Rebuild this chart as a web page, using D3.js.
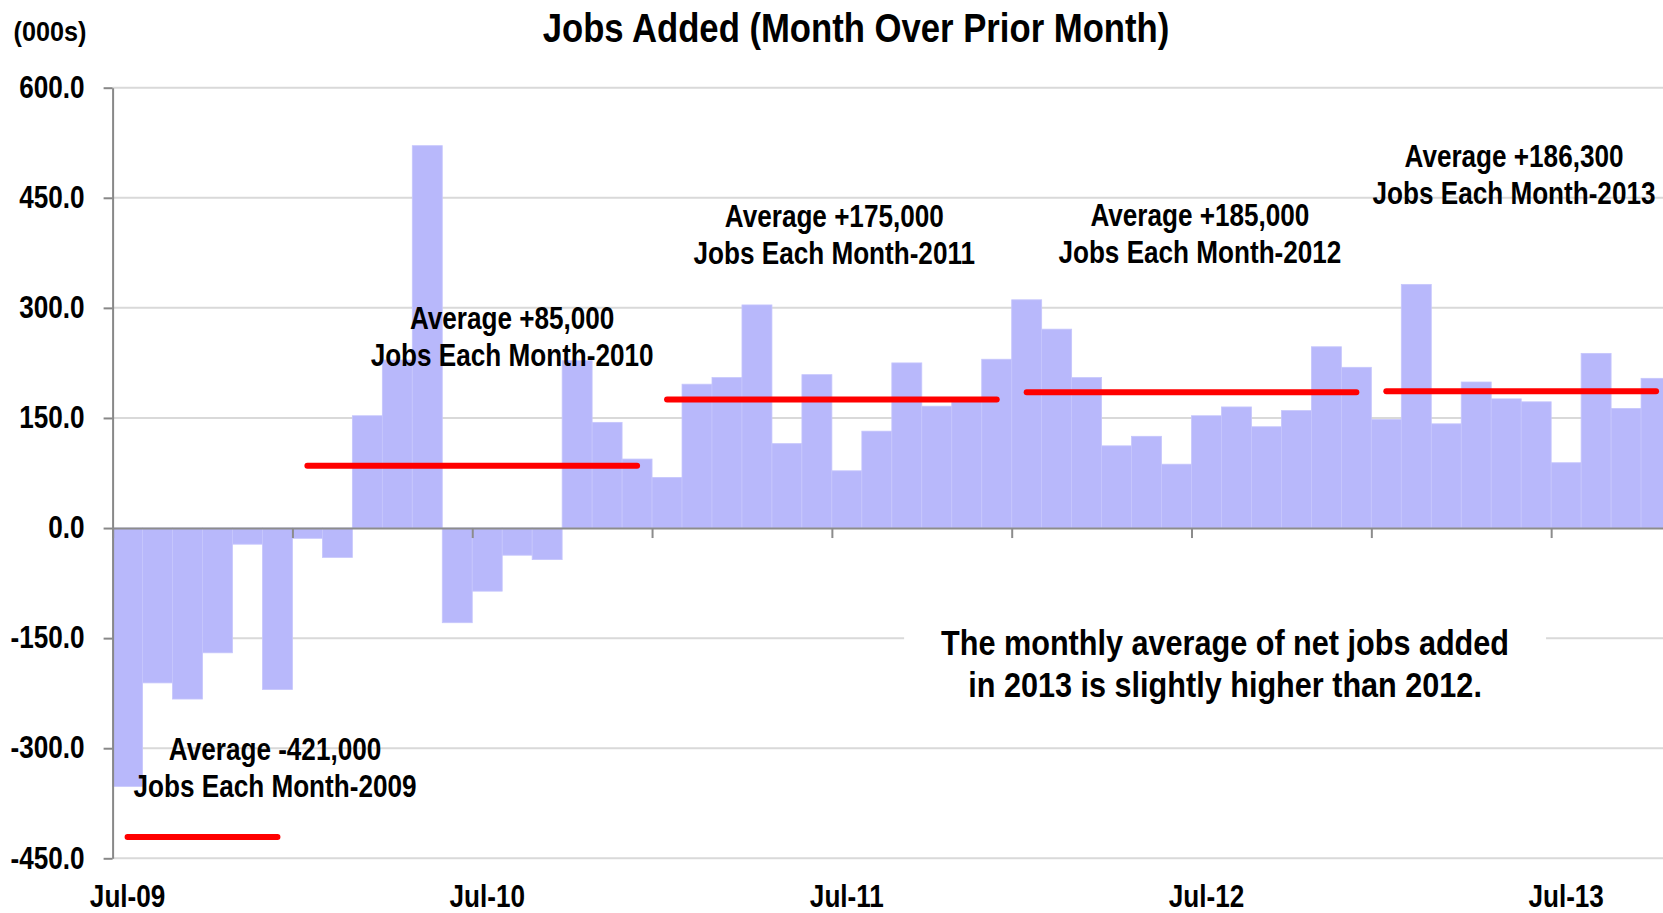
<!DOCTYPE html>
<html>
<head>
<meta charset="utf-8">
<script src="https://cdn.jsdelivr.net/npm/d3@7"></script>
<style>
  body { margin: 0; background: #fff; overflow: hidden; }
  svg { display: block; }
  text { font-family: "Liberation Sans", Arial, sans-serif; font-weight: bold; fill: #000; }
</style>
</head>
<body>
<div id="chart"></div>
<script>
// months Jul-09 .. Oct-13
const months = d3.timeMonths(new Date(2009, 6, 1), new Date(2013, 10, 1)).map(d3.timeFormat('%b-%y'));

// net jobs added, thousands
const jobsAdded = [
  -352, -211, -233, -170, -22, -220,
  -14, -40, 153, 229, 521, -129, -86, -37, -43, 228, 144, 94,
  69, 196, 205, 304, 115, 209, 78, 132, 225, 166, 174, 230,
  311, 271, 205, 112, 125, 87, 153, 165, 138, 160, 247, 219,
  148, 332, 142, 199, 176, 172, 89, 238, 163, 204
];

const years = ['09', '10', '11', '12', '13'];
const yearAverages = [-421, 85, 175, 185, 186.3];
const averageText = ['Average -421,000', 'Average +85,000', 'Average +175,000', 'Average +185,000', 'Average +186,300'];
const eachMonthText = ['Jobs Each Month-2009', 'Jobs Each Month-2010', 'Jobs Each Month-2011', 'Jobs Each Month-2012', 'Jobs Each Month-2013'];
const yTicks = [-450, -300, -150, 0, 150, 300, 450, 600];
const xLabels = ['Jul-09', 'Jul-10', 'Jul-11', 'Jul-12', 'Jul-13'];
const noteLines = ['The monthly average of net jobs added', 'in 2013 is slightly higher than 2012.'];

// layout
const width = 1663;
const height = 913;
const left = 112.6;
const monthWidth = 29.97;
const plotTop = 87.7;
const plotBottom = 858.3;
const fs = 30.5;
const narrow = 0.856;
// label anchors in (month index, value) units
const averageLabelPos = [[5.42, -315.7], [13.33, 271.5], [24.08, 410], [36.28, 411.9], [46.76, 491.3]];
const notePos = [37.12, -172.4];

const squeeze = (sel, k) => sel.each(function() {
  const len = this.getComputedTextLength();
  d3.select(this).attr('textLength', len * k).attr('lengthAdjust', 'spacingAndGlyphs');
});

const svg = d3.select('#chart')
  .append('svg')
  .attr('width', width)
  .attr('height', height)

const x = d3.scaleBand()
  .domain(months)
  .range([left, left + months.length * monthWidth])
  .padding(0)

const xi = d3.scaleLinear()
  .domain([0, months.length])
  .range([left, left + months.length * monthWidth])

const y = d3.scaleLinear()
  .domain([-450, 600])
  .range([plotBottom, plotTop])

//Gridlines
svg.append('g')
  .selectAll('line')
  .data(yTicks.filter(d => d !== 0))
  .enter().append('line')
  .attr('x1', left)
  .attr('x2', width)
  .attr('y1', d => y(d))
  .attr('y2', d => y(d))
  .attr('stroke', '#d9d9d9')
  .attr('stroke-width', 2)

//Bars
svg.append('g')
  .selectAll('rect')
  .data(jobsAdded)
  .enter().append('rect')
  .attr('x', (d, i) => x(months[i]))
  .attr('width', x.bandwidth())
  .attr('y', d => y(Math.max(0, d)))
  .attr('height', d => Math.abs(y(d) - y(0)))
  .attr('fill', '#b8b8fb')
  .attr('stroke', '#c6c6fc')
  .attr('stroke-width', 0.8)

//Y axis
const yAxis = svg.append('g')
  .attr('transform', `translate(${left},0)`)
  .call(d3.axisLeft(y).tickValues(yTicks).tickSize(9).tickSizeOuter(0).tickPadding(19).tickFormat(d => d.toFixed(1)))
yAxis.selectAll('path, line').attr('stroke', '#888').attr('stroke-width', 2)
yAxis.selectAll('text').attr('font-size', fs).attr('font-family', null).attr('fill', '#000').call(squeeze, narrow)

//X axis line + ticks every 6 months
const xAxis = svg.append('g')
  .attr('transform', `translate(0,${y(0)})`)
  .call(d3.axisBottom(xi).tickValues(d3.range(0, months.length + 1, 6)).tickSize(10).tickSizeOuter(0).tickFormat(''))
xAxis.selectAll('path, line').attr('stroke', '#8c8c8c').attr('stroke-width', 2)

//X labels at bottom
const xLab = svg.append('g')
  .attr('transform', `translate(0,885.5)`)
  .call(d3.axisBottom(x).tickValues(xLabels).tickSize(0).tickPadding(0))
xLab.select('.domain').remove()
xLab.selectAll('text').attr('font-size', fs).attr('font-family', null).attr('fill', '#000').call(squeeze, narrow)

//Average lines
years.forEach((yr, k) => {
  const idx = months.map((m, i) => m.endsWith(yr) ? i : -1).filter(i => i >= 0);
  const first = months[idx[0]];
  const last = months[idx[idx.length - 1]];
  svg.append('line')
    .attr('x1', x(first) + x.bandwidth() / 2)
    .attr('x2', x(last) + x.bandwidth() / 2)
    .attr('y1', y(yearAverages[k]))
    .attr('y2', y(yearAverages[k]))
    .attr('stroke', '#ff0000')
    .attr('stroke-width', 6)
    .attr('stroke-linecap', 'round')
});

//Average labels
const labels = svg.append('g')
averageText.forEach((t, k) => {
  const px = xi(averageLabelPos[k][0]);
  const py = y(averageLabelPos[k][1]);
  labels.append('text').attr('x', px).attr('y', py).attr('text-anchor', 'middle').attr('font-size', fs).text(t)
  labels.append('text').attr('x', px).attr('y', py + 37).attr('text-anchor', 'middle').attr('font-size', fs).text(eachMonthText[k])
});
labels.selectAll('text').call(squeeze, narrow)

//Note box
const note = svg.append('g')
note.selectAll('text')
  .data(noteLines)
  .enter().append('text')
  .attr('x', xi(notePos[0]))
  .attr('y', (d, i) => y(notePos[1]) + i * 42)
  .attr('text-anchor', 'middle')
  .attr('font-size', 35.5)
  .text(d => d)
  .call(squeeze, 0.862)
const box = note.node().getBBox();
note.insert('rect', 'text')
  .attr('x', box.x - 37)
  .attr('y', box.y - 12)
  .attr('width', box.width + 74)
  .attr('height', box.height + 24)
  .attr('fill', '#fff')

//Titles
svg.append('text')
  .attr('x', 856)
  .attr('y', 42)
  .attr('text-anchor', 'middle')
  .attr('font-size', 40.5)
  .text('Jobs Added (Month Over Prior Month)')
  .call(squeeze, narrow)

svg.append('text')
  .attr('x', 50)
  .attr('y', 40.5)
  .attr('text-anchor', 'middle')
  .attr('font-size', 28)
  .text('(000s)')
  .call(squeeze, 0.9)
</script>
</body>
</html>
